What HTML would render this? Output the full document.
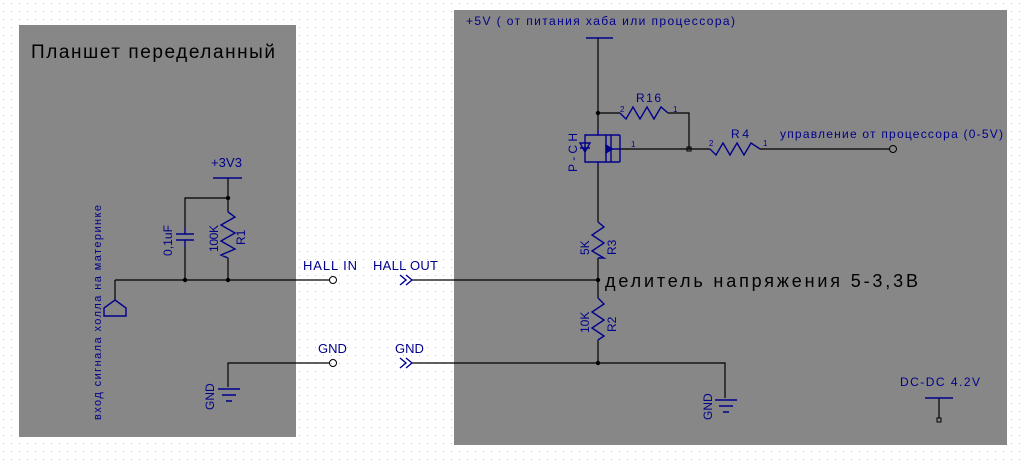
<!DOCTYPE html>
<html><head><meta charset="utf-8"><style>
html,body{margin:0;padding:0;background:#fff}
svg{display:block}
text{font-family:"Liberation Sans","DejaVu Sans",sans-serif}
</style></head><body>
<svg width="1024" height="465" viewBox="0 0 1024 465" xmlns="http://www.w3.org/2000/svg">
<defs>
<pattern id="g" width="8" height="8" patternUnits="userSpaceOnUse">
<rect x="3" y="3" width="1" height="1" fill="#c4c4c4"/>
</pattern>
</defs>
<rect width="1024" height="465" fill="#fff"/>
<rect width="1024" height="465" fill="url(#g)"/>
<rect x="19" y="25" width="277" height="412" fill="#878787"/>
<rect x="454" y="10" width="553" height="435" fill="#878787"/>

<g stroke="#000" stroke-width="1.2" fill="none">
<path d="M115 280 H330"/>
<path d="M115 280 V300"/>
<path d="M228 178 V198 H185 V228"/>
<path d="M185 247 V280"/>
<path d="M228 198 V212"/>
<path d="M228 258 V280"/>
<path d="M228 387 V363 H330"/>
<path d="M598 38 V130"/>
<path d="M598 113 H620"/>
<path d="M668 113 H689 V149"/>
<path d="M620 149 H710"/>
<path d="M760 149 H890"/>
<path d="M598 165 V222"/>
<path d="M598 258 V298"/>
<path d="M598 340 V363"/>
<path d="M412 280 H598"/>
<path d="M412 363 H725 V398"/>
<path d="M939 398 V418"/>
</g>
<g fill="#000">
<circle cx="185" cy="280" r="2.2"/><circle cx="228" cy="280" r="2.2"/><circle cx="228" cy="198" r="2.2"/>
<circle cx="598" cy="113" r="2.2"/><circle cx="598" cy="280" r="2.2"/><circle cx="598" cy="363" r="2.2"/>
</g>
<g stroke="#000" stroke-width="1" fill="none">
<rect x="687" y="147" width="4" height="4"/>
<rect x="937" y="418" width="4" height="4"/>
<circle cx="333" cy="280" r="3.5"/>
<circle cx="333" cy="363" r="3.5"/>
<circle cx="893" cy="149" r="3.5"/>
</g>

<g stroke="#00008b" stroke-width="1.4" fill="none">
<path d="M115 300 L126 308 V316 H104 V308 Z"/>
<path d="M213 178 H242"/>
<path d="M185 228 V234 M176 234 H194 M176 240 H194 M185 240 V247"/>
<path d="M228 212 L235 217 L221 225 L235 233 L221 241 L235 249 L221 255 L228 258"/>
<path d="M218 389 H240 M222 395 H236 M226 401 H232"/>
<path d="M715 400 H737 M719 406 H733 M723 412 H729"/>
<path d="M586 38 H613"/>
<path d="M925 398 H953"/>
<path d="M620 113 L626 119 L633 107 L640 119 L647 107 L654 119 L661 107 L668 113"/>
<path d="M710 149 L716 155 L723 143 L730 155 L737 143 L744 155 L751 143 L760 149"/>
<path d="M598 222 L604 227 L592 235 L604 243 L592 251 L604 258 L598 258"/>
<path d="M598 298 L604 304 L592 312 L604 320 L592 328 L604 336 L598 340"/>
<path d="M598 130 V135 H620 M606 135 V162 M598 162 H620 M598 162 V165 M611 135 V162 M611 149 H620 M620 135 V162"/>
<path d="M598 135 H585 V162 H598 M585 143 V155 M580 148 H590"/>
<path d="M580 143 L590 143 L585 152 Z"/>
<path d="M612 149 L606 145 L606 153 Z" fill="#00008b"/>
<path d="M400 275 L406 280 L400 285 M406 275 L412 280 L406 285"/>
<path d="M400 358 L406 363 L400 368 M406 358 L412 363 L406 368"/>
</g>

<g fill="#00008b" font-size="12">
<text x="31" y="58" font-size="19" fill="#000" textLength="244" lengthAdjust="spacing">Планшет переделанный</text>
<text x="211" y="167" font-size="13" textLength="31" lengthAdjust="spacing">+3V3</text>
<text x="303" y="270" font-size="13" textLength="54" lengthAdjust="spacing">HALL IN</text>
<text x="373" y="270" font-size="13" textLength="65" lengthAdjust="spacing">HALL OUT</text>
<text x="318" y="353" font-size="13">GND</text>
<text x="395" y="353" font-size="13">GND</text>
<text x="466" y="25" font-size="12" textLength="269" lengthAdjust="spacing">+5V ( от питания хаба или процессора)</text>
<text x="636" y="102" font-size="12" textLength="25" lengthAdjust="spacing">R16</text>
<text x="731" y="138" font-size="12" textLength="18" lengthAdjust="spacing">R4</text>
<text x="780" y="138" font-size="12" textLength="223" lengthAdjust="spacing">управление от процессора (0-5V)</text>
<text x="605" y="287" font-size="18" fill="#000" textLength="313" lengthAdjust="spacing">делитель напряжения 5-3,3В</text>
<text x="900" y="386" font-size="12" textLength="80" lengthAdjust="spacing">DC-DC 4.2V</text>
<g font-size="8">
<text x="620" y="112">2</text><text x="673" y="112">1</text>
<text x="709" y="146">2</text><text x="763" y="146">1</text>
<text x="631" y="147">1</text>
</g>
<text transform="translate(101,420) rotate(-90)" font-size="11" textLength="215" lengthAdjust="spacing">вход сигнала холла на материнке</text>
<text transform="translate(172,256) rotate(-90)" font-size="12" textLength="31" lengthAdjust="spacing">0,1uF</text>
<text transform="translate(218,252) rotate(-90)" font-size="12" textLength="27" lengthAdjust="spacing">100K</text>
<text transform="translate(245,245) rotate(-90)" font-size="12">R1</text>
<text transform="translate(214,410) rotate(-90)" font-size="12">GND</text>
<text transform="translate(712,420) rotate(-90)" font-size="12">GND</text>
<text transform="translate(577,172) rotate(-90)" font-size="12" textLength="39" lengthAdjust="spacing">P-CH</text>
<text transform="translate(589,255) rotate(-90)" font-size="12">5K</text>
<text transform="translate(616,255) rotate(-90)" font-size="12">R3</text>
<text transform="translate(589,333) rotate(-90)" font-size="12">10K</text>
<text transform="translate(616,332) rotate(-90)" font-size="12">R2</text>
</g>
</svg>
</body></html>
